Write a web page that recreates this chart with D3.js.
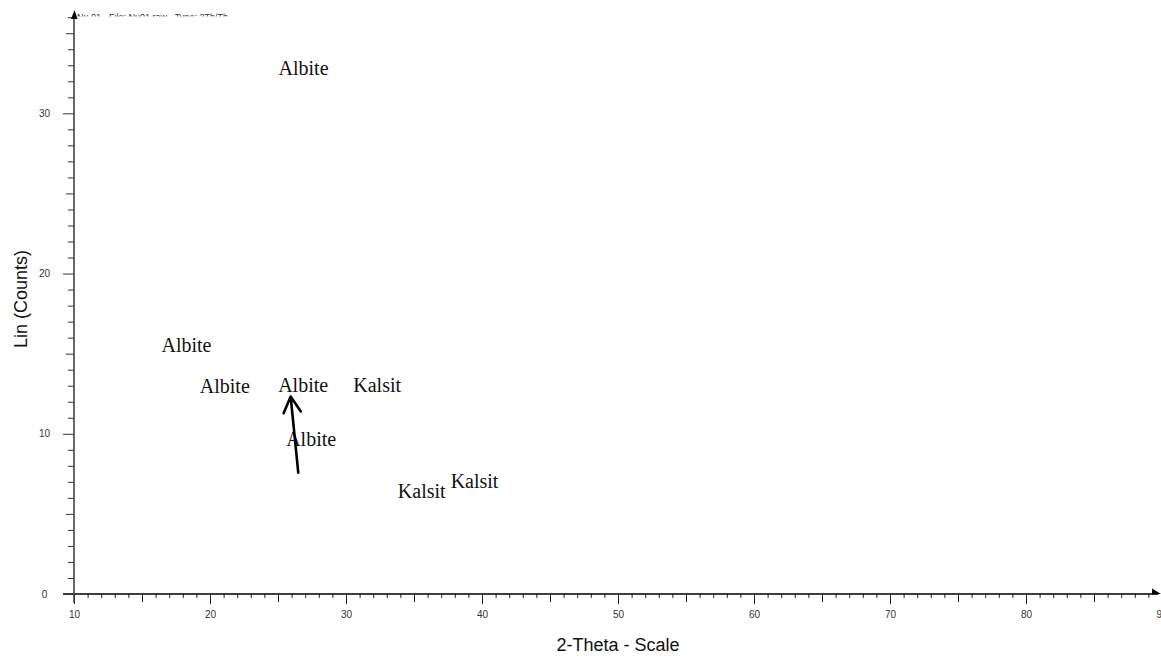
<!DOCTYPE html>
<html lang="en">
<head>
    <meta charset="UTF-8">
    <title>XRD pattern</title>
    <script src="https://cdn.jsdelivr.net/npm/d3@7"></script>
    <style>
        body { margin: 0; background: #fff; }
        svg { display: block; }
    </style>
</head>
<body>
<div id="chart"></div>
<script>
    // peak labels: 2-theta position, counts (label baseline), phase name
    const peakTheta  = [26.88, 18.27, 21.09, 26.85, 32.29, 27.44, 35.57, 39.45];
    const peakCounts = [32.40, 15.09, 12.57, 12.61, 12.59, 9.26, 5.97, 6.60];
    const peakNames  = ["Albite", "Albite", "Albite", "Albite", "Kalsit", "Albite", "Kalsit", "Kalsit"];

    // annotation arrow: tail -> tip
    const arrowTheta  = [26.49, 25.93];
    const arrowCounts = [7.57, 12.32];

    const xTickLabels = [10, 20, 30, 40, 50, 60, 70, 80, 90];
    const yTickLabels = [0, 10, 20, 30];
    const headerText = "Nu 01 - File: Nu01.raw - Type: 2Th/Th";

    const width = 1161, height = 658;
    const svg = d3.select("#chart").append("svg")
        .attr("width", width)
        .attr("height", height);

    const x = d3.scaleLinear().domain([10, 90]).range([74, 1162]);
    const y = d3.scaleLinear().domain([0, 36.2]).range([594, 14]);

    // clipped header line at the very top
    svg.append("clipPath").attr("id", "hdr")
        .append("rect").attr("x", 0).attr("y", 13.4).attr("width", 400).attr("height", 3);
    svg.append("text")
        .attr("x", 77).attr("y", 20)
        .attr("clip-path", "url(#hdr)")
        .style("font", "9px 'Liberation Sans', Arial, sans-serif")
        .style("fill", "#333")
        .text(headerText);

    // X axis: tick every 1 degree, longer at 5, longest at 10
    const xAxis = svg.append("g")
        .attr("transform", `translate(0,${y(0)})`)
        .call(d3.axisBottom(x)
            .tickValues(d3.range(10, 90))
            .tickSize(4)
            .tickFormat(d => xTickLabels.includes(d) ? d : ""));
    xAxis.select(".domain").remove();
    xAxis.selectAll(".tick line")
        .attr("y2", d => d % 10 === 0 ? 10 : d % 5 === 0 ? 8 : 4)
        .attr("stroke", "#222");
    xAxis.selectAll(".tick text")
        .attr("y", 21)
        .attr("dy", "0.32em")
        .style("font", "10px 'Liberation Sans', Arial, sans-serif")
        .style("fill", "#333");
    // "90" sits on the edge and is cut by the window, as in the original
    xAxis.append("g").attr("transform", `translate(${x(90)},0)`)
        .append("text")
        .attr("y", 21).attr("dy", "0.32em")
        .attr("text-anchor", "middle")
        .style("font", "10px 'Liberation Sans', Arial, sans-serif")
        .style("fill", "#333")
        .text(90);
    svg.append("line")
        .attr("x1", 63).attr("x2", 1158)
        .attr("y1", y(0)).attr("y2", y(0))
        .attr("stroke", "#000").attr("stroke-width", 1.3);
    svg.append("path")
        .attr("d", `M1152,${y(0) - 5.5}L1161,${y(0)}L1152,${y(0) + 0.5}Z`)
        .attr("fill", "#000");

    // Y axis: tick every count, longer at 5, longest at 10
    const yAxis = svg.append("g")
        .attr("transform", `translate(${x(10)},0)`)
        .call(d3.axisLeft(y)
            .tickValues(d3.range(0, 37))
            .tickSize(6)
            .tickFormat(d => yTickLabels.includes(d) ? d : ""));
    yAxis.select(".domain").remove();
    yAxis.selectAll(".tick line")
        .attr("x2", d => d % 10 === 0 ? -11 : d % 5 === 0 ? -8 : -6)
        .attr("stroke", "#333");
    yAxis.selectAll(".tick text")
        .attr("x", -29.5)
        .attr("text-anchor", "middle")
        .style("font", "10px 'Liberation Sans', Arial, sans-serif")
        .style("fill", "#333");
    svg.append("line")
        .attr("x1", x(10)).attr("x2", x(10))
        .attr("y1", 16).attr("y2", 603)
        .attr("stroke", "#444").attr("stroke-width", 1.6);
    svg.append("path")
        .attr("d", `M71,19L74.5,10L77.5,19Z`)
        .attr("fill", "#000");

    // axis titles
    svg.append("text")
        .attr("x", 618).attr("y", 651)
        .attr("text-anchor", "middle")
        .style("font", "18px 'Liberation Sans', Arial, sans-serif")
        .style("fill", "#111")
        .text("2-Theta - Scale");
    svg.append("text")
        .attr("transform", "translate(27,299) rotate(-90)")
        .attr("text-anchor", "middle")
        .style("font", "18px 'Liberation Sans', Arial, sans-serif")
        .style("fill", "#111")
        .text("Lin (Counts)");

    // phase labels
    const peaks = peakNames.map((n, i) => ({name: n, theta: peakTheta[i], counts: peakCounts[i]}));
    svg.append("g").selectAll("text")
        .data(peaks)
        .enter()
        .append("text")
        .attr("x", d => x(d.theta))
        .attr("y", d => y(d.counts))
        .attr("text-anchor", "middle")
        .style("font", "20px 'Liberation Serif', 'Times New Roman', serif")
        .style("fill", "#111")
        .text(d => d.name);

    // hand-drawn style arrow
    const tail = [x(arrowTheta[0]), y(arrowCounts[0])];
    const tip = [x(arrowTheta[1]), y(arrowCounts[1])];
    const ang = Math.atan2(tip[1] - tail[1], tip[0] - tail[0]);
    const head = 18, spread = 0.5;
    const w1 = [tip[0] - head * Math.cos(ang - spread), tip[1] - head * Math.sin(ang - spread)];
    const w2 = [tip[0] - head * Math.cos(ang + spread), tip[1] - head * Math.sin(ang + spread)];
    svg.append("path")
        .attr("d", d3.line()([tail, tip]) + d3.line()([w1, tip, w2]))
        .attr("fill", "none")
        .attr("stroke", "#000")
        .attr("stroke-width", 2.6)
        .attr("stroke-linecap", "round")
        .attr("stroke-linejoin", "round");
</script>
</body>
</html>
